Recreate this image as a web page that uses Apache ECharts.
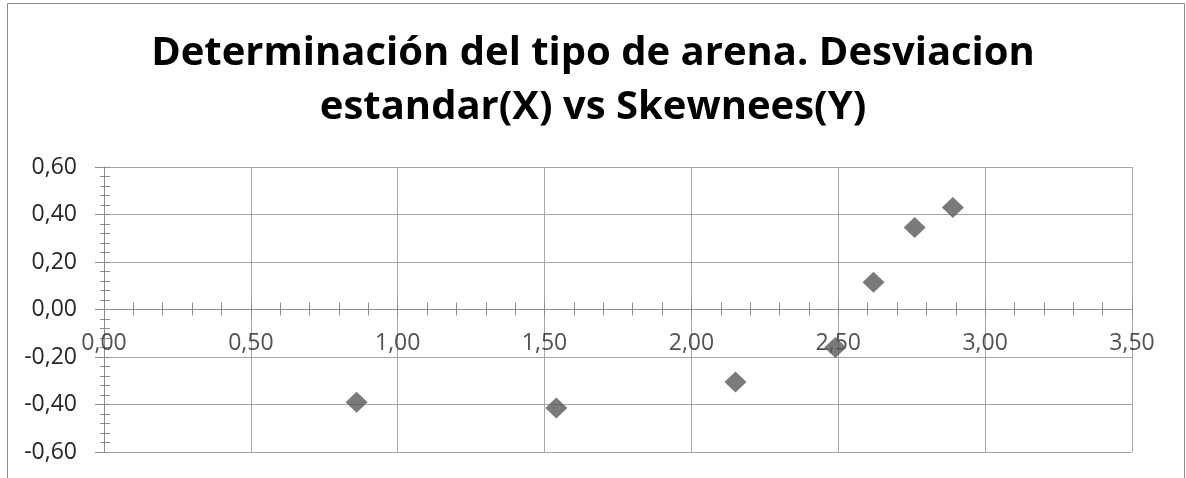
<!DOCTYPE html>
<html>
<head>
<meta charset="utf-8">
<script src="https://cdn.jsdelivr.net/npm/echarts@6/dist/echarts.min.js"></script>
<style>
html,body{margin:0;padding:0;background:#fff;}
#chart{width:1186px;height:478px;}
</style>
</head>
<body>
<div id="chart"></div>
<script>
const titleText = 'Determinación del tipo de arena. Desviacion\nestandar(X) vs Skewnees(Y)';
const desviacionX = [0.86, 1.54, 2.15, 2.49, 2.62, 2.76, 2.89];
const skewnessY = [-0.39, -0.415, -0.305, -0.16, 0.115, 0.345, 0.43];
const xTickValues = [0, 0.5, 1, 1.5, 2, 2.5, 3, 3.5];

const fmt = v => v.toFixed(2).replace('.', ',');
const axisGray = '#8c8c8c';
const gridGray = '#a6a6a6';
const labelColor = '#262626';
const labelFont = 'Open Sans';
const labelSize = 23;

const chart = echarts.init(document.getElementById('chart'));
chart.setOption({
  animation: false,
  backgroundColor: '#fff',
  graphic: [{
    type: 'rect', silent: true, z: -1,
    shape: {x: 7.5, y: 3.5, width: 1177, height: 520},
    style: {fill: 'none', stroke: axisGray, lineWidth: 1}
  }],
  title: {
    text: titleText,
    left: 'center',
    top: 27,
    padding: 0,
    textStyle: {
      fontFamily: 'Open Sans',
      fontWeight: 'bold',
      fontSize: 40,
      lineHeight: 54,
      color: '#000'
    }
  },
  grid: {left: 104, right: 54, top: 167, bottom: 26, containLabel: false, outerBoundsMode: 'none'},
  xAxis: [{
    type: 'value', min: 0, max: 3.5, interval: 0.5, position: 'bottom',
    axisLine: {show: true, onZero: true, lineStyle: {color: axisGray, width: 1}},
    axisTick: {show: true, length: 6, lineStyle: {color: axisGray}},
    minorTick: {show: true, splitNumber: 5, length: 6, lineStyle: {color: axisGray}},
    axisLabel: {show: false},
    splitLine: {show: true, lineStyle: {color: gridGray, width: 1}}
  }, {
    type: 'value', min: 0, max: 3.5, interval: 0.5, position: 'bottom',
    axisLine: {show: false, onZero: true, onZeroAxisIndex: 0},
    axisTick: {show: true, inside: true, length: 7, lineStyle: {color: axisGray}},
    minorTick: {show: true, splitNumber: 5, length: 7, lineStyle: {color: axisGray}},
    axisLabel: {show: false},
    splitLine: {show: false}
  }],
  yAxis: [{
    type: 'value', min: -0.6, max: 0.6, interval: 0.2, position: 'left',
    axisLine: {show: true, onZero: false, lineStyle: {color: axisGray, width: 1}},
    axisTick: {show: true, length: 9, lineStyle: {color: axisGray}},
    minorTick: {show: true, splitNumber: 5, length: 4, lineStyle: {color: axisGray}},
    axisLabel: {formatter: fmt, fontSize: labelSize, fontFamily: labelFont, color: labelColor, margin: 27},
    splitLine: {show: true, lineStyle: {color: gridGray, width: 1}}
  }, {
    type: 'value', min: -0.6, max: 0.6, interval: 0.2, position: 'left',
    axisLine: {show: false, onZero: false},
    axisTick: {show: true, inside: true, length: 6, lineStyle: {color: axisGray}},
    minorTick: {show: true, splitNumber: 5, length: 6, lineStyle: {color: axisGray}},
    axisLabel: {show: false},
    splitLine: {show: false}
  }],
  series: [{
    type: 'scatter',
    xAxisIndex: 0, yAxisIndex: 0,
    symbol: 'diamond',
    symbolSize: [22, 21],
    itemStyle: {color: '#595959'},
    data: desviacionX.map((x, i) => [x, skewnessY[i]]),
    z: 3
  }, {
    type: 'scatter',
    xAxisIndex: 0, yAxisIndex: 0,
    symbol: 'circle',
    symbolSize: 1,
    itemStyle: {color: 'rgba(0,0,0,0)'},
    silent: true,
    clip: false,
    z: 2,
    data: xTickValues.map(v => [v, 0]),
    label: {
      show: true,
      position: 'bottom',
      distance: 22,
      formatter: p => fmt(p.value[0]),
      fontSize: labelSize,
      fontFamily: labelFont,
      color: labelColor
    },
    labelLayout: {hideOverlap: false}
  }]
});
</script>
</body>
</html>
